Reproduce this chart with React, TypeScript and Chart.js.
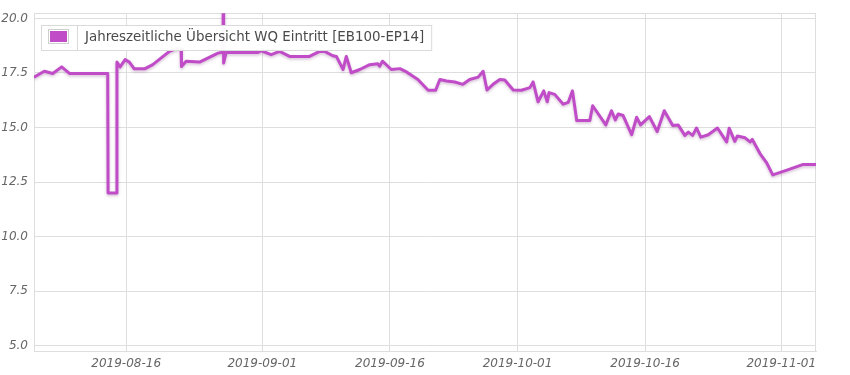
import React, { useEffect, useRef } from 'react';
import { Chart, registerables } from 'chart.js';

Chart.register(...registerables);

const SERIES_LABEL = 'Jahreszeitliche Übersicht WQ Eintritt [EB100-EP14]';
const SERIES_COLOR = '#c04cc8';

const TIMES = [
  '2019-08-05 04:00', '2019-08-06 09:00', '2019-08-07 09:00', '2019-08-08 10:00', '2019-08-09 08:00',
  '2019-08-13 20:00', '2019-08-13 21:00', '2019-08-14 21:00', '2019-08-14 22:00', '2019-08-15 07:00',
  '2019-08-15 21:00', '2019-08-16 09:00', '2019-08-16 23:00', '2019-08-18 04:00', '2019-08-19 03:00',
  '2019-08-21 02:00', '2019-08-22 02:00', '2019-08-22 11:00', '2019-08-22 12:00', '2019-08-23 01:00',
  '2019-08-24 15:00', '2019-08-26 19:00', '2019-08-27 04:00', '2019-08-27 09:00', '2019-08-27 10:00',
  '2019-08-27 11:00', '2019-08-27 18:00', '2019-08-31 12:00', '2019-08-31 21:00', '2019-09-02 01:00',
  '2019-09-03 01:00', '2019-09-04 05:00', '2019-09-06 13:00', '2019-09-07 18:00', '2019-09-08 08:00',
  '2019-09-09 07:00', '2019-09-09 17:00', '2019-09-10 12:00', '2019-09-10 21:00', '2019-09-11 11:00',
  '2019-09-12 11:00', '2019-09-13 15:00', '2019-09-14 14:00', '2019-09-14 19:00', '2019-09-15 03:00',
  '2019-09-16 04:00', '2019-09-17 04:00', '2019-09-17 23:00', '2019-09-19 07:00', '2019-09-20 12:00',
  '2019-09-21 09:00', '2019-09-21 21:00', '2019-09-22 16:00', '2019-09-23 15:00', '2019-09-24 14:00',
  '2019-09-25 09:00', '2019-09-26 09:00', '2019-09-26 23:00', '2019-09-27 10:00', '2019-09-28 03:00',
  '2019-09-28 22:00', '2019-09-29 12:00', '2019-09-30 12:00', '2019-10-01 11:00', '2019-10-02 11:00',
  '2019-10-02 20:00', '2019-10-03 10:00', '2019-10-04 02:00', '2019-10-04 12:00', '2019-10-04 17:00',
  '2019-10-05 09:00', '2019-10-06 09:00', '2019-10-06 23:00', '2019-10-07 11:00', '2019-10-07 23:00',
  '2019-10-09 12:00', '2019-10-09 20:00', '2019-10-10 12:00', '2019-10-11 09:00', '2019-10-12 01:00',
  '2019-10-12 12:00', '2019-10-12 20:00', '2019-10-13 10:00', '2019-10-14 10:00', '2019-10-15 00:00',
  '2019-10-15 11:00', '2019-10-16 12:00', '2019-10-17 10:00', '2019-10-18 06:00', '2019-10-19 06:00',
  '2019-10-19 21:00', '2019-10-20 16:00', '2019-10-21 02:00', '2019-10-21 14:00', '2019-10-22 01:00',
  '2019-10-22 13:00', '2019-10-23 10:00', '2019-10-24 12:00', '2019-10-25 14:00', '2019-10-25 21:00',
  '2019-10-26 13:00', '2019-10-26 20:00', '2019-10-27 18:00', '2019-10-28 08:00', '2019-10-28 14:00',
  '2019-10-29 12:00', '2019-10-30 07:00', '2019-10-31 00:00', '2019-11-01 16:00', '2019-11-03 14:00',
  '2019-11-05 02:00',
];

const VALUES = [
  17.31, 17.58, 17.48, 17.78, 17.48,
  17.48, 12.0, 12.0, 18.0, 17.78,
  18.11, 18.0, 17.69, 17.69, 17.88,
  18.49, 18.64, 18.6, 17.8, 18.04,
  18.0, 18.41, 18.44, 18.5, 21.0,
  17.96, 18.44, 18.44, 18.52, 18.34,
  18.49, 18.26, 18.26, 18.49, 18.49,
  18.29, 18.26, 17.66, 18.26, 17.51,
  17.66, 17.88, 17.92, 17.81, 18.04,
  17.66, 17.7, 17.55, 17.2, 16.71,
  16.71, 17.2, 17.13, 17.09, 16.98,
  17.2, 17.31, 17.58, 16.72, 16.98,
  17.2, 17.18, 16.72, 16.71, 16.83,
  17.09, 16.18, 16.68, 16.18, 16.6,
  16.52, 16.07, 16.15, 16.68, 15.32,
  15.32, 16.0, 15.62, 15.12, 15.77,
  15.35, 15.62, 15.55, 14.67, 15.47,
  15.12, 15.5, 14.82, 15.77, 15.09,
  15.12, 14.64, 14.79, 14.64, 14.98,
  14.56, 14.67, 14.98, 14.34, 14.97,
  14.37, 14.61, 14.53, 14.34, 14.46,
  13.81, 13.38, 12.83, 13.05, 13.31,
  13.31,
];

const X_TICK_LABELS = ['2019-08-16', '2019-09-01', '2019-09-16', '2019-10-01', '2019-10-16', '2019-11-01'];
const Y_TICKS = [5, 7.5, 10, 12.5, 15, 17.5, 20];
const Y_MIN = 4.76;
const Y_MAX = 20.24;

const toMs = (s: string) => Date.parse(s.replace(' ', 'T') + ':00Z');
const fmtDate = (v: number) => new Date(v).toISOString().slice(0, 10);

const GRID_COLOR = '#dedede';
const FONT_FAMILY = '"DejaVu Sans", Verdana, sans-serif';

const framePlugin = {
  id: 'frame',
  beforeDatasetsDraw(chart: any) {
    const { ctx, chartArea } = chart;
    ctx.save();
    ctx.strokeStyle = GRID_COLOR;
    ctx.lineWidth = 1;
    ctx.beginPath();
    ctx.moveTo(chartArea.left, Math.round(chartArea.top) + 0.5);
    ctx.lineTo(chartArea.right, Math.round(chartArea.top) + 0.5);
    ctx.moveTo(Math.round(chartArea.right) - 0.5, chartArea.top);
    ctx.lineTo(Math.round(chartArea.right) - 0.5, chartArea.bottom);
    ctx.stroke();
    ctx.restore();
    // soft shadow under the line
    ctx.save();
    ctx.shadowColor = 'rgba(110, 40, 110, 0.3)';
    ctx.shadowBlur = 3;
    ctx.shadowOffsetY = 1.5;
  },
  afterDatasetsDraw(chart: any) {
    chart.ctx.restore();
  },
};

const overlayLegendPlugin = {
  id: 'overlayLegend',
  afterDraw(chart: any) {
    const { ctx, chartArea } = chart;
    ctx.save();
    ctx.font = '13.4px ' + FONT_FAMILY;
    const tw = ctx.measureText(SERIES_LABEL).width;
    const x0 = Math.round(chartArea.left) + 7;
    const y0 = Math.round(chartArea.top) + 12;
    const h = 25;
    const w = 44 + tw + 7;
    ctx.fillStyle = 'rgba(255,255,255,0.96)';
    ctx.fillRect(x0, y0, w, h);
    ctx.strokeStyle = '#dadada';
    ctx.lineWidth = 1;
    ctx.strokeRect(x0 + 0.5, y0 + 0.5, w, h);
    ctx.beginPath();
    ctx.moveTo(x0 + 36.5, y0);
    ctx.lineTo(x0 + 36.5, y0 + h);
    ctx.stroke();
    ctx.strokeStyle = '#cfcfcf';
    ctx.strokeRect(x0 + 7.5, y0 + 4.5, 20, 14);
    ctx.fillStyle = SERIES_COLOR;
    ctx.fillRect(x0 + 9, y0 + 6, 17, 11);
    ctx.fillStyle = '#4a4a4a';
    ctx.textBaseline = 'middle';
    ctx.textAlign = 'left';
    ctx.fillText(SERIES_LABEL, x0 + 44, y0 + h / 2 + 0.5);
    ctx.restore();
  },
};

export default function App() {
  const canvasRef = useRef<HTMLCanvasElement | null>(null);

  useEffect(() => {
    const canvas = canvasRef.current;
    if (!canvas) return;
    const xMin = toMs(TIMES[0]);
    const xMax = toMs(TIMES[TIMES.length - 1]);
    const chart = new Chart(canvas, {
      type: 'line',
      data: {
        datasets: [
          {
            label: SERIES_LABEL,
            data: TIMES.map((t, i) => ({ x: toMs(t), y: VALUES[i] })),
            borderColor: SERIES_COLOR,
            backgroundColor: SERIES_COLOR,
            borderWidth: 3,
            pointRadius: 0,
            pointHoverRadius: 0,
            tension: 0,
            fill: false,
            borderJoinStyle: 'round',
          },
        ],
      },
      options: {
        animation: false,
        responsive: false,
        maintainAspectRatio: false,
        layout: { padding: { top: 10, right: 34, left: 0, bottom: 0 } },
        plugins: {
          legend: { display: false },
          tooltip: { enabled: false },
        },
        scales: {
          x: {
            type: 'linear',
            min: xMin,
            max: xMax,
            afterBuildTicks: (axis: any) => {
              axis.ticks = X_TICK_LABELS.map((d) => ({ value: toMs(d + ' 00:00') }));
            },
            afterFit: (axis: any) => {
              axis.height = 24;
            },
            ticks: {
              autoSkip: false,
              maxRotation: 0,
              padding: 6,
              color: '#666',
              font: { family: FONT_FAMILY, size: 12, style: 'italic' },
              callback: (v: any) => fmtDate(Number(v)),
            },
            grid: { color: GRID_COLOR, drawTicks: false },
            border: { display: true, color: GRID_COLOR },
          },
          y: {
            type: 'linear',
            min: Y_MIN,
            max: Y_MAX,
            afterBuildTicks: (axis: any) => {
              axis.ticks = Y_TICKS.map((v) => ({ value: v }));
            },
            afterFit: (axis: any) => {
              axis.width = 34;
            },
            ticks: {
              padding: 6,
              color: '#666',
              font: { family: FONT_FAMILY, size: 12, style: 'italic' },
              callback: (v: any) => Number(v).toFixed(1),
            },
            grid: { color: GRID_COLOR, drawTicks: false },
            border: { display: true, color: GRID_COLOR },
          },
        },
      },
      plugins: [framePlugin, overlayLegendPlugin],
    } as any);
    return () => chart.destroy();
  }, []);

  return (
    <div style={{ position: 'absolute', left: 0, top: 0, width: 850, height: 375, background: '#fff' }}>
      <canvas ref={canvasRef} width={850} height={375} style={{ display: 'block' }} />
    </div>
  );
}
